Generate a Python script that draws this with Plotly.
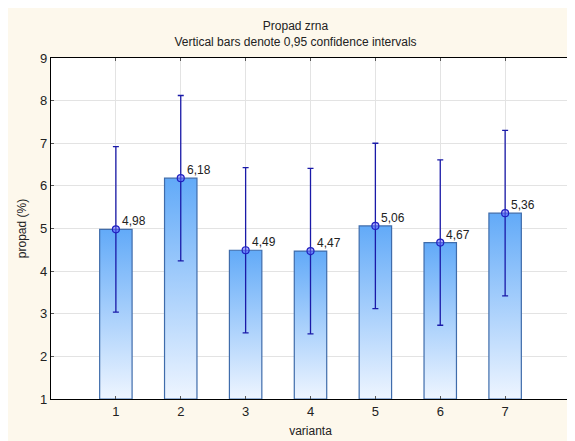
import plotly.graph_objects as go

categories = [1, 2, 3, 4, 5, 6, 7]
means = [4.98, 6.18, 4.49, 4.47, 5.06, 4.67, 5.36]
ci_half = [1.94, 1.94, 1.94, 1.94, 1.94, 1.94, 1.94]
labels = ["4,98", "6,18", "4,49", "4,47", "5,06", "4,67", "5,36"]
y_ticks = [1, 2, 3, 4, 5, 6, 7, 8, 9]
baseline = 1
half_width = 0.25

FONT = "Liberation Sans, Arial, sans-serif"

fig = go.Figure()

for c, v in zip(categories, means):
    fig.add_trace(go.Scatter(
        x=[c - half_width, c - half_width, c + half_width, c + half_width, c - half_width],
        y=[baseline, v, v, baseline, baseline],
        fill="toself",
        fillgradient=dict(type="vertical",
                          colorscale=[[0, "#eef5ff"], [1, "#62aaf8"]]),
        mode="lines",
        line=dict(color="#3f6cab", width=1.2),
        hoverinfo="skip",
        showlegend=False,
    ))

fig.add_trace(go.Scatter(
    x=categories,
    y=means,
    mode="markers",
    marker=dict(size=7, color="rgba(100,100,255,0.5)",
                line=dict(color="#2020c0", width=1.2)),
    error_y=dict(type="data", array=ci_half, color="#1a1aa8",
                 thickness=1.3, width=3),
    showlegend=False,
))

for c, v, t in zip(categories, means, labels):
    fig.add_annotation(
        x=c, y=v, text=t, showarrow=False,
        xanchor="left", yanchor="middle", xshift=4, yshift=8,
        font=dict(family=FONT, size=12, color="#222222"),
    )

fig.update_layout(
    width=575, height=441,
    paper_bgcolor="#fdf8ec",
    plot_bgcolor="#ffffff",
    margin=dict(l=43, r=13, t=50, b=50),
    title=dict(
        text="Propad zrna<br>Vertical bars denote 0,95 confidence intervals",
        x=0.5, xanchor="center", y=0.949, yanchor="top",
        font=dict(family=FONT, size=12, color="#222222"),
    ),
    font=dict(family=FONT, size=12, color="#222222"),
)

fig.update_xaxes(
    range=[0, 8],
    tickvals=categories,
    ticktext=[str(c) for c in categories],
    showgrid=True, gridcolor="#e3e3e3", gridwidth=1,
    showline=True, linecolor="#000000", linewidth=1.2, mirror="allticks",
    ticks="inside", ticklen=3, tickcolor="#555555",
    zeroline=False,
    title=dict(text="varianta", standoff=8, font=dict(size=12)),
    tickfont=dict(size=13),
)
fig.update_yaxes(
    range=[1, 9],
    tickvals=y_ticks,
    showgrid=True, gridcolor="#e3e3e3", gridwidth=1,
    showline=True, linecolor="#000000", linewidth=1.2, mirror="allticks",
    ticks="inside", ticklen=3, tickcolor="#555555",
    zeroline=False,
    title=dict(text="propad (%)", standoff=10, font=dict(size=12)),
    tickfont=dict(size=13),
)

fig.write_html("out.html")
